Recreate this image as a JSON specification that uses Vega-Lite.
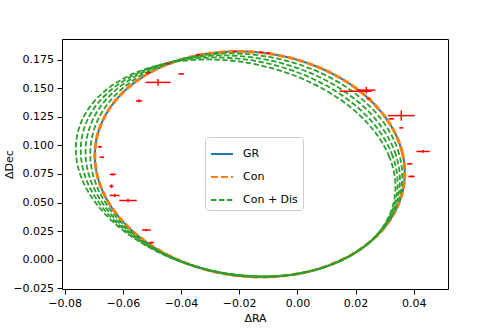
{
  "$schema": "https://vega.github.io/schema/vega-lite/v6.json",
  "width": 386,
  "height": 250,
  "autosize": "none",
  "padding": {"left": 62, "top": 39, "right": 50, "bottom": 43},
  "background": "white",
  "config": {
    "font": "DejaVu Sans",
    "view": {"stroke": "black", "strokeWidth": 1},
    "axis": {"domain": false, "grid": false, "tickColor": "black", "tickSize": 5, "tickWidth": 1, "labelColor": "black", "labelFontSize": 11, "labelFont": "DejaVu Sans", "titleFont": "DejaVu Sans", "titleFontSize": 11, "titleFontWeight": "normal", "titleColor": "black", "labelFlush": false, "labelOverlap": false, "labelBound": false},
    "axisX": {"labelPadding": 3, "titlePadding": 4},
    "axisY": {"labelPadding": 3.5, "titleX": -50, "titleBaseline": "alphabetic"}
  },
  "datasets": {
    "orb": [
      {"s":"GR","k":0,"i":0,"ra":0.03690,"dec":0.07593},{"s":"GR","k":0,"i":1,"ra":0.03609,"dec":0.09315},{"s":"GR","k":0,"i":2,"ra":0.03369,"dec":0.11007},{"s":"GR","k":0,"i":3,"ra":0.02977,"dec":0.12618},{"s":"GR","k":0,"i":4,"ra":0.02444,"dec":0.14100},{"s":"GR","k":0,"i":5,"ra":0.01788,"dec":0.15407},{"s":"GR","k":0,"i":6,"ra":0.01028,"dec":0.16501},{"s":"GR","k":0,"i":7,"ra":0.00186,"dec":0.17346},{"s":"GR","k":0,"i":8,"ra":-0.00710,"dec":0.17920},{"s":"GR","k":0,"i":9,"ra":-0.01635,"dec":0.18201},{"s":"GR","k":0,"i":10,"ra":-0.02560,"dec":0.18184},{"s":"GR","k":0,"i":11,"ra":-0.03456,"dec":0.17868},{"s":"GR","k":0,"i":12,"ra":-0.04298,"dec":0.17263},{"s":"GR","k":0,"i":13,"ra":-0.05058,"dec":0.16387},{"s":"GR","k":0,"i":14,"ra":-0.05714,"dec":0.15268},{"s":"GR","k":0,"i":15,"ra":-0.06247,"dec":0.13938},{"s":"GR","k":0,"i":16,"ra":-0.06639,"dec":0.12439},{"s":"GR","k":0,"i":17,"ra":-0.06879,"dec":0.10815},{"s":"GR","k":0,"i":18,"ra":-0.06960,"dec":0.09117},{"s":"GR","k":0,"i":19,"ra":-0.06879,"dec":0.07395},{"s":"GR","k":0,"i":20,"ra":-0.06639,"dec":0.05703},{"s":"GR","k":0,"i":21,"ra":-0.06247,"dec":0.04092},{"s":"GR","k":0,"i":22,"ra":-0.05714,"dec":0.02610},{"s":"GR","k":0,"i":23,"ra":-0.05058,"dec":0.01303},{"s":"GR","k":0,"i":24,"ra":-0.04298,"dec":0.00209},{"s":"GR","k":0,"i":25,"ra":-0.03456,"dec":-0.00636},{"s":"GR","k":0,"i":26,"ra":-0.02560,"dec":-0.01210},{"s":"GR","k":0,"i":27,"ra":-0.01635,"dec":-0.01491},{"s":"GR","k":0,"i":28,"ra":-0.00710,"dec":-0.01474},{"s":"GR","k":0,"i":29,"ra":0.00186,"dec":-0.01158},{"s":"GR","k":0,"i":30,"ra":0.01028,"dec":-0.00553},{"s":"GR","k":0,"i":31,"ra":0.01788,"dec":0.00323},{"s":"GR","k":0,"i":32,"ra":0.02444,"dec":0.01442},{"s":"GR","k":0,"i":33,"ra":0.02977,"dec":0.02772},{"s":"GR","k":0,"i":34,"ra":0.03369,"dec":0.04271},{"s":"GR","k":0,"i":35,"ra":0.03609,"dec":0.05895},
      {"s":"Con","k":0,"i":0,"ra":0.03690,"dec":0.07593},{"s":"Con","k":0,"i":1,"ra":0.03609,"dec":0.09315},{"s":"Con","k":0,"i":2,"ra":0.03369,"dec":0.11007},{"s":"Con","k":0,"i":3,"ra":0.02977,"dec":0.12618},{"s":"Con","k":0,"i":4,"ra":0.02444,"dec":0.14100},{"s":"Con","k":0,"i":5,"ra":0.01788,"dec":0.15407},{"s":"Con","k":0,"i":6,"ra":0.01028,"dec":0.16501},{"s":"Con","k":0,"i":7,"ra":0.00186,"dec":0.17346},{"s":"Con","k":0,"i":8,"ra":-0.00710,"dec":0.17920},{"s":"Con","k":0,"i":9,"ra":-0.01635,"dec":0.18201},{"s":"Con","k":0,"i":10,"ra":-0.02560,"dec":0.18184},{"s":"Con","k":0,"i":11,"ra":-0.03456,"dec":0.17868},{"s":"Con","k":0,"i":12,"ra":-0.04298,"dec":0.17263},{"s":"Con","k":0,"i":13,"ra":-0.05058,"dec":0.16387},{"s":"Con","k":0,"i":14,"ra":-0.05714,"dec":0.15268},{"s":"Con","k":0,"i":15,"ra":-0.06247,"dec":0.13938},{"s":"Con","k":0,"i":16,"ra":-0.06639,"dec":0.12439},{"s":"Con","k":0,"i":17,"ra":-0.06879,"dec":0.10815},{"s":"Con","k":0,"i":18,"ra":-0.06960,"dec":0.09117},{"s":"Con","k":0,"i":19,"ra":-0.06879,"dec":0.07395},{"s":"Con","k":0,"i":20,"ra":-0.06639,"dec":0.05703},{"s":"Con","k":0,"i":21,"ra":-0.06247,"dec":0.04092},{"s":"Con","k":0,"i":22,"ra":-0.05714,"dec":0.02610},{"s":"Con","k":0,"i":23,"ra":-0.05058,"dec":0.01303},{"s":"Con","k":0,"i":24,"ra":-0.04298,"dec":0.00209},{"s":"Con","k":0,"i":25,"ra":-0.03456,"dec":-0.00636},{"s":"Con","k":0,"i":26,"ra":-0.02560,"dec":-0.01210},{"s":"Con","k":0,"i":27,"ra":-0.01635,"dec":-0.01491},{"s":"Con","k":0,"i":28,"ra":-0.00710,"dec":-0.01474},{"s":"Con","k":0,"i":29,"ra":0.00186,"dec":-0.01158},{"s":"Con","k":0,"i":30,"ra":0.01028,"dec":-0.00553},{"s":"Con","k":0,"i":31,"ra":0.01788,"dec":0.00323},{"s":"Con","k":0,"i":32,"ra":0.02444,"dec":0.01442},{"s":"Con","k":0,"i":33,"ra":0.02977,"dec":0.02772},{"s":"Con","k":0,"i":34,"ra":0.03369,"dec":0.04271},{"s":"Con","k":0,"i":35,"ra":0.03609,"dec":0.05895},
      {"s":"Con + Dis","k":1,"i":0,"ra":0.03603,"dec":0.07520},{"s":"Con + Dis","k":1,"i":1,"ra":0.03498,"dec":0.09225},{"s":"Con + Dis","k":1,"i":2,"ra":0.03234,"dec":0.10901},{"s":"Con + Dis","k":1,"i":3,"ra":0.02818,"dec":0.12496},{"s":"Con + Dis","k":1,"i":4,"ra":0.02263,"dec":0.13964},{"s":"Con + Dis","k":1,"i":5,"ra":0.01586,"dec":0.15259},{"s":"Con + Dis","k":1,"i":6,"ra":0.00807,"dec":0.16342},{"s":"Con + Dis","k":1,"i":7,"ra":-0.00050,"dec":0.17179},{"s":"Con + Dis","k":1,"i":8,"ra":-0.00959,"dec":0.17747},{"s":"Con + Dis","k":1,"i":9,"ra":-0.01892,"dec":0.18026},{"s":"Con + Dis","k":1,"i":10,"ra":-0.02821,"dec":0.18009},{"s":"Con + Dis","k":1,"i":11,"ra":-0.03717,"dec":0.17696},{"s":"Con + Dis","k":1,"i":12,"ra":-0.04554,"dec":0.17097},{"s":"Con + Dis","k":1,"i":13,"ra":-0.05306,"dec":0.16229},{"s":"Con + Dis","k":1,"i":14,"ra":-0.05949,"dec":0.15121},{"s":"Con + Dis","k":1,"i":15,"ra":-0.06467,"dec":0.13804},{"s":"Con + Dis","k":1,"i":16,"ra":-0.06840,"dec":0.12319},{"s":"Con + Dis","k":1,"i":17,"ra":-0.07059,"dec":0.10711},{"s":"Con + Dis","k":1,"i":18,"ra":-0.07117,"dec":0.09029},{"s":"Con + Dis","k":1,"i":19,"ra":-0.07012,"dec":0.07324},{"s":"Con + Dis","k":1,"i":20,"ra":-0.06748,"dec":0.05648},{"s":"Con + Dis","k":1,"i":21,"ra":-0.06332,"dec":0.04053},{"s":"Con + Dis","k":1,"i":22,"ra":-0.05776,"dec":0.02585},{"s":"Con + Dis","k":1,"i":23,"ra":-0.05099,"dec":0.01290},{"s":"Con + Dis","k":1,"i":24,"ra":-0.04321,"dec":0.00207},{"s":"Con + Dis","k":1,"i":25,"ra":-0.03463,"dec":-0.00630},{"s":"Con + Dis","k":1,"i":26,"ra":-0.02555,"dec":-0.01198},{"s":"Con + Dis","k":1,"i":27,"ra":-0.01622,"dec":-0.01477},{"s":"Con + Dis","k":1,"i":28,"ra":-0.00693,"dec":-0.01460},{"s":"Con + Dis","k":1,"i":29,"ra":0.00203,"dec":-0.01147},{"s":"Con + Dis","k":1,"i":30,"ra":0.01040,"dec":-0.00548},{"s":"Con + Dis","k":1,"i":31,"ra":0.01792,"dec":0.00320},{"s":"Con + Dis","k":1,"i":32,"ra":0.02436,"dec":0.01428},{"s":"Con + Dis","k":1,"i":33,"ra":0.02953,"dec":0.02745},{"s":"Con + Dis","k":1,"i":34,"ra":0.03326,"dec":0.04230},{"s":"Con + Dis","k":1,"i":35,"ra":0.03545,"dec":0.05838},
      {"s":"Con + Dis","k":2,"i":0,"ra":0.03517,"dec":0.07447},{"s":"Con + Dis","k":2,"i":1,"ra":0.03388,"dec":0.09135},{"s":"Con + Dis","k":2,"i":2,"ra":0.03099,"dec":0.10795},{"s":"Con + Dis","k":2,"i":3,"ra":0.02659,"dec":0.12375},{"s":"Con + Dis","k":2,"i":4,"ra":0.02081,"dec":0.13828},{"s":"Con + Dis","k":2,"i":5,"ra":0.01383,"dec":0.15110},{"s":"Con + Dis","k":2,"i":6,"ra":0.00586,"dec":0.16183},{"s":"Con + Dis","k":2,"i":7,"ra":-0.00287,"dec":0.17012},{"s":"Con + Dis","k":2,"i":8,"ra":-0.01207,"dec":0.17575},{"s":"Con + Dis","k":2,"i":9,"ra":-0.02148,"dec":0.17850},{"s":"Con + Dis","k":2,"i":10,"ra":-0.03081,"dec":0.17833},{"s":"Con + Dis","k":2,"i":11,"ra":-0.03977,"dec":0.17524},{"s":"Con + Dis","k":2,"i":12,"ra":-0.04810,"dec":0.16930},{"s":"Con + Dis","k":2,"i":13,"ra":-0.05553,"dec":0.16071},{"s":"Con + Dis","k":2,"i":14,"ra":-0.06185,"dec":0.14974},{"s":"Con + Dis","k":2,"i":15,"ra":-0.06686,"dec":0.13669},{"s":"Con + Dis","k":2,"i":16,"ra":-0.07041,"dec":0.12199},{"s":"Con + Dis","k":2,"i":17,"ra":-0.07239,"dec":0.10606},{"s":"Con + Dis","k":2,"i":18,"ra":-0.07274,"dec":0.08941},{"s":"Con + Dis","k":2,"i":19,"ra":-0.07145,"dec":0.07252},{"s":"Con + Dis","k":2,"i":20,"ra":-0.06857,"dec":0.05593},{"s":"Con + Dis","k":2,"i":21,"ra":-0.06417,"dec":0.04013},{"s":"Con + Dis","k":2,"i":22,"ra":-0.05839,"dec":0.02560},{"s":"Con + Dis","k":2,"i":23,"ra":-0.05141,"dec":0.01278},{"s":"Con + Dis","k":2,"i":24,"ra":-0.04344,"dec":0.00205},{"s":"Con + Dis","k":2,"i":25,"ra":-0.03471,"dec":-0.00624},{"s":"Con + Dis","k":2,"i":26,"ra":-0.02551,"dec":-0.01187},{"s":"Con + Dis","k":2,"i":27,"ra":-0.01609,"dec":-0.01462},{"s":"Con + Dis","k":2,"i":28,"ra":-0.00676,"dec":-0.01446},{"s":"Con + Dis","k":2,"i":29,"ra":0.00219,"dec":-0.01136},{"s":"Con + Dis","k":2,"i":30,"ra":0.01053,"dec":-0.00542},{"s":"Con + Dis","k":2,"i":31,"ra":0.01796,"dec":0.00317},{"s":"Con + Dis","k":2,"i":32,"ra":0.02427,"dec":0.01414},{"s":"Con + Dis","k":2,"i":33,"ra":0.02929,"dec":0.02719},{"s":"Con + Dis","k":2,"i":34,"ra":0.03283,"dec":0.04189},{"s":"Con + Dis","k":2,"i":35,"ra":0.03481,"dec":0.05781},
      {"s":"Con + Dis","k":3,"i":0,"ra":0.03430,"dec":0.07373},{"s":"Con + Dis","k":3,"i":1,"ra":0.03277,"dec":0.09046},{"s":"Con + Dis","k":3,"i":2,"ra":0.02964,"dec":0.10689},{"s":"Con + Dis","k":3,"i":3,"ra":0.02501,"dec":0.12253},{"s":"Con + Dis","k":3,"i":4,"ra":0.01900,"dec":0.13692},{"s":"Con + Dis","k":3,"i":5,"ra":0.01181,"dec":0.14962},{"s":"Con + Dis","k":3,"i":6,"ra":0.00365,"dec":0.16024},{"s":"Con + Dis","k":3,"i":7,"ra":-0.00523,"dec":0.16844},{"s":"Con + Dis","k":3,"i":8,"ra":-0.01456,"dec":0.17402},{"s":"Con + Dis","k":3,"i":9,"ra":-0.02405,"dec":0.17675},{"s":"Con + Dis","k":3,"i":10,"ra":-0.03342,"dec":0.17658},{"s":"Con + Dis","k":3,"i":11,"ra":-0.04238,"dec":0.17351},{"s":"Con + Dis","k":3,"i":12,"ra":-0.05066,"dec":0.16764},{"s":"Con + Dis","k":3,"i":13,"ra":-0.05801,"dec":0.15913},{"s":"Con + Dis","k":3,"i":14,"ra":-0.06420,"dec":0.14826},{"s":"Con + Dis","k":3,"i":15,"ra":-0.06906,"dec":0.13535},{"s":"Con + Dis","k":3,"i":16,"ra":-0.07242,"dec":0.12079},{"s":"Con + Dis","k":3,"i":17,"ra":-0.07419,"dec":0.10502},{"s":"Con + Dis","k":3,"i":18,"ra":-0.07431,"dec":0.08853},{"s":"Con + Dis","k":3,"i":19,"ra":-0.07279,"dec":0.07181},{"s":"Con + Dis","k":3,"i":20,"ra":-0.06966,"dec":0.05538},{"s":"Con + Dis","k":3,"i":21,"ra":-0.06502,"dec":0.03974},{"s":"Con + Dis","k":3,"i":22,"ra":-0.05901,"dec":0.02534},{"s":"Con + Dis","k":3,"i":23,"ra":-0.05182,"dec":0.01265},{"s":"Con + Dis","k":3,"i":24,"ra":-0.04367,"dec":0.00203},{"s":"Con + Dis","k":3,"i":25,"ra":-0.03478,"dec":-0.00618},{"s":"Con + Dis","k":3,"i":26,"ra":-0.02546,"dec":-0.01175},{"s":"Con + Dis","k":3,"i":27,"ra":-0.01597,"dec":-0.01448},{"s":"Con + Dis","k":3,"i":28,"ra":-0.00659,"dec":-0.01431},{"s":"Con + Dis","k":3,"i":29,"ra":0.00236,"dec":-0.01124},{"s":"Con + Dis","k":3,"i":30,"ra":0.01065,"dec":-0.00537},{"s":"Con + Dis","k":3,"i":31,"ra":0.01800,"dec":0.00314},{"s":"Con + Dis","k":3,"i":32,"ra":0.02419,"dec":0.01400},{"s":"Con + Dis","k":3,"i":33,"ra":0.02905,"dec":0.02692},{"s":"Con + Dis","k":3,"i":34,"ra":0.03241,"dec":0.04147},{"s":"Con + Dis","k":3,"i":35,"ra":0.03417,"dec":0.05725},
      {"s":"Con + Dis","k":4,"i":0,"ra":0.03343,"dec":0.07300},{"s":"Con + Dis","k":4,"i":1,"ra":0.03166,"dec":0.08956},{"s":"Con + Dis","k":4,"i":2,"ra":0.02829,"dec":0.10583},{"s":"Con + Dis","k":4,"i":3,"ra":0.02342,"dec":0.12132},{"s":"Con + Dis","k":4,"i":4,"ra":0.01718,"dec":0.13556},{"s":"Con + Dis","k":4,"i":5,"ra":0.00978,"dec":0.14813},{"s":"Con + Dis","k":4,"i":6,"ra":0.00144,"dec":0.15865},{"s":"Con + Dis","k":4,"i":7,"ra":-0.00760,"dec":0.16677},{"s":"Con + Dis","k":4,"i":8,"ra":-0.01704,"dec":0.17229},{"s":"Con + Dis","k":4,"i":9,"ra":-0.02661,"dec":0.17499},{"s":"Con + Dis","k":4,"i":10,"ra":-0.03603,"dec":0.17483},{"s":"Con + Dis","k":4,"i":11,"ra":-0.04498,"dec":0.17179},{"s":"Con + Dis","k":4,"i":12,"ra":-0.05322,"dec":0.16597},{"s":"Con + Dis","k":4,"i":13,"ra":-0.06049,"dec":0.15755},{"s":"Con + Dis","k":4,"i":14,"ra":-0.06656,"dec":0.14679},{"s":"Con + Dis","k":4,"i":15,"ra":-0.07126,"dec":0.13400},{"s":"Con + Dis","k":4,"i":16,"ra":-0.07443,"dec":0.11959},{"s":"Con + Dis","k":4,"i":17,"ra":-0.07599,"dec":0.10398},{"s":"Con + Dis","k":4,"i":18,"ra":-0.07588,"dec":0.08765},{"s":"Con + Dis","k":4,"i":19,"ra":-0.07412,"dec":0.07110},{"s":"Con + Dis","k":4,"i":20,"ra":-0.07075,"dec":0.05483},{"s":"Con + Dis","k":4,"i":21,"ra":-0.06587,"dec":0.03934},{"s":"Con + Dis","k":4,"i":22,"ra":-0.05963,"dec":0.02509},{"s":"Con + Dis","k":4,"i":23,"ra":-0.05224,"dec":0.01253},{"s":"Con + Dis","k":4,"i":24,"ra":-0.04390,"dec":0.00201},{"s":"Con + Dis","k":4,"i":25,"ra":-0.03486,"dec":-0.00612},{"s":"Con + Dis","k":4,"i":26,"ra":-0.02541,"dec":-0.01163},{"s":"Con + Dis","k":4,"i":27,"ra":-0.01584,"dec":-0.01433},{"s":"Con + Dis","k":4,"i":28,"ra":-0.00642,"dec":-0.01417},{"s":"Con + Dis","k":4,"i":29,"ra":0.00253,"dec":-0.01113},{"s":"Con + Dis","k":4,"i":30,"ra":0.01078,"dec":-0.00532},{"s":"Con + Dis","k":4,"i":31,"ra":0.01804,"dec":0.00311},{"s":"Con + Dis","k":4,"i":32,"ra":0.02410,"dec":0.01386},{"s":"Con + Dis","k":4,"i":33,"ra":0.02881,"dec":0.02665},{"s":"Con + Dis","k":4,"i":34,"ra":0.03198,"dec":0.04106},{"s":"Con + Dis","k":4,"i":35,"ra":0.03353,"dec":0.05668}
    ],
    "obs": [
      {"ra":-0.0479,"dec":0.1552,"rlo":-0.0522,"rhi":-0.0436,"dlo":0.1523,"dhi":0.1581},
      {"ra":-0.0399,"dec":0.1626,"rlo":-0.0409,"rhi":-0.0389,"dlo":0.1622,"dhi":0.1630},
      {"ra":-0.0544,"dec":0.1390,"rlo":-0.0555,"rhi":-0.0533,"dlo":0.1375,"dhi":0.1405},
      {"ra":-0.0679,"dec":0.0988,"rlo":-0.0686,"rhi":-0.0672,"dlo":0.0979,"dhi":0.0997},
      {"ra":-0.0672,"dec":0.0897,"rlo":-0.0680,"rhi":-0.0664,"dlo":0.0893,"dhi":0.0901},
      {"ra":-0.0634,"dec":0.0746,"rlo":-0.0645,"rhi":-0.0623,"dlo":0.0737,"dhi":0.0755},
      {"ra":-0.0639,"dec":0.0643,"rlo":-0.0646,"rhi":-0.0632,"dlo":0.0628,"dhi":0.0658},
      {"ra":-0.0628,"dec":0.0562,"rlo":-0.0645,"rhi":-0.0611,"dlo":0.0547,"dhi":0.0577},
      {"ra":-0.0582,"dec":0.0518,"rlo":-0.0612,"rhi":-0.0552,"dlo":0.0503,"dhi":0.0533},
      {"ra":-0.0519,"dec":0.0259,"rlo":-0.0534,"rhi":-0.0504,"dlo":0.0249,"dhi":0.0269},
      {"ra":-0.0502,"dec":0.0149,"rlo":-0.0511,"rhi":-0.0493,"dlo":0.0141,"dhi":0.0157},
      {"ra":0.0357,"dec":0.1261,"rlo":0.0311,"rhi":0.0403,"dlo":0.1217,"dhi":0.1305},
      {"ra":0.0323,"dec":0.1233,"rlo":0.0314,"rhi":0.0332,"dlo":0.1229,"dhi":0.1237},
      {"ra":0.0357,"dec":0.1154,"rlo":0.0350,"rhi":0.0364,"dlo":0.1150,"dhi":0.1158},
      {"ra":0.0432,"dec":0.0947,"rlo":0.0409,"rhi":0.0455,"dlo":0.0935,"dhi":0.0959},
      {"ra":0.0386,"dec":0.0839,"rlo":0.0377,"rhi":0.0395,"dlo":0.0835,"dhi":0.0843},
      {"ra":0.0392,"dec":0.0728,"rlo":0.0381,"rhi":0.0403,"dlo":0.0718,"dhi":0.0738},
      {"ra":0.0200,"dec":0.1474,"rlo":0.0145,"rhi":0.0255,"dlo":0.1470,"dhi":0.1478},
      {"ra":0.0237,"dec":0.1484,"rlo":0.0206,"rhi":0.0268,"dlo":0.1455,"dhi":0.1513},
      {"ra":0.0245,"dec":0.1410,"rlo":0.0238,"rhi":0.0252,"dlo":0.1406,"dhi":0.1414},
      {"ra":-0.0513,"dec":0.1635,"rlo":-0.0520,"rhi":-0.0506,"dlo":0.1631,"dhi":0.1639},
      {"ra":-0.0445,"dec":0.1716,"rlo":-0.0452,"rhi":-0.0438,"dlo":0.1712,"dhi":0.1720},
      {"ra":-0.0342,"dec":0.1795,"rlo":-0.0349,"rhi":-0.0335,"dlo":0.1791,"dhi":0.1799},
      {"ra":-0.0215,"dec":0.1823,"rlo":-0.0222,"rhi":-0.0208,"dlo":0.1819,"dhi":0.1827},
      {"ra":-0.0124,"dec":0.1815,"rlo":-0.0131,"rhi":-0.0117,"dlo":0.1811,"dhi":0.1819},
      {"ra":-0.0101,"dec":0.1809,"rlo":-0.0108,"rhi":-0.0094,"dlo":0.1805,"dhi":0.1813}
    ]
  },
  "layer": [
    {
      "data": {"name": "orb"},
      "transform": [{"filter": "datum.s === 'GR'"}],
      "mark": {"type": "line", "interpolate": "cardinal-closed", "strokeWidth": 2},
      "encoding": {
        "x": {"field": "ra", "type": "quantitative", "title": "ΔRA", "scale": {"domain": [-0.08089, 0.05175], "nice": false, "zero": false}, "axis": {"values": [-0.08, -0.06, -0.04, -0.02, 0, 0.02, 0.04], "format": ".2f", "labelOverlap": false}},
        "y": {"field": "dec", "type": "quantitative", "title": "ΔDec", "scale": {"domain": [-0.0257, 0.19318], "nice": false, "zero": false}, "axis": {"values": [-0.025, 0, 0.025, 0.05, 0.075, 0.1, 0.125, 0.15, 0.175], "format": ".3f", "labelOverlap": false, "tickCount": 9}},
        "order": {"field": "i", "type": "quantitative"},
        "detail": {"field": "k", "type": "nominal"},
        "color": {"field": "s", "type": "nominal", "scale": {"domain": ["GR", "Con", "Con + Dis"], "range": ["#1f77b4", "#ff7f0e", "#2ca02c"]}, "legend": {"title": null, "orient": "none", "legendX": 143, "legendY": 98, "symbolType": "stroke", "symbolSize": 484, "symbolStrokeWidth": 1.8, "labelFontSize": 11, "labelFont": "DejaVu Sans", "labelColor": "black", "labelOffset": 9, "rowPadding": 6, "padding": 5, "fillColor": "rgba(255,255,255,0.8)", "strokeColor": "#cccccc", "cornerRadius": 3}},
        "strokeDash": {"field": "s", "type": "nominal", "scale": {"domain": ["GR", "Con", "Con + Dis"], "range": [[1, 0], [7, 3], [5.5, 2.4]]}, "legend": {"title": null, "orient": "none", "legendX": 143, "legendY": 98, "symbolType": "stroke", "symbolSize": 484, "symbolStrokeWidth": 1.8, "labelFontSize": 11, "labelFont": "DejaVu Sans", "labelColor": "black", "labelOffset": 9, "rowPadding": 6, "padding": 5, "fillColor": "rgba(255,255,255,0.8)", "strokeColor": "#cccccc", "cornerRadius": 3}}
      }
    },
    {
      "data": {"name": "orb"},
      "transform": [{"filter": "datum.s === 'Con'"}],
      "mark": {"type": "line", "interpolate": "cardinal-closed", "strokeWidth": 3},
      "encoding": {
        "x": {"field": "ra", "type": "quantitative", "title": "ΔRA"},
        "y": {"field": "dec", "type": "quantitative", "title": "ΔDec"},
        "order": {"field": "i", "type": "quantitative"},
        "detail": {"field": "k", "type": "nominal"},
        "color": {"field": "s", "type": "nominal"},
        "strokeDash": {"field": "s", "type": "nominal"}
      }
    },
    {
      "data": {"name": "orb"},
      "transform": [{"filter": "datum.s === 'Con + Dis'"}],
      "mark": {"type": "line", "interpolate": "cardinal-closed", "strokeWidth": 1.8},
      "encoding": {
        "x": {"field": "ra", "type": "quantitative", "title": "ΔRA"},
        "y": {"field": "dec", "type": "quantitative", "title": "ΔDec"},
        "order": {"field": "i", "type": "quantitative"},
        "detail": {"field": "k", "type": "nominal"},
        "color": {"field": "s", "type": "nominal"},
        "strokeDash": {"field": "s", "type": "nominal"}
      }
    },
    {
      "data": {"name": "obs"},
      "mark": {"type": "rule", "color": "#ff0000", "strokeWidth": 1.5},
      "encoding": {
        "x": {"field": "rlo", "type": "quantitative", "title": "ΔRA"},
        "x2": {"field": "rhi"},
        "y": {"field": "dec", "type": "quantitative", "title": "ΔDec"}
      }
    },
    {
      "data": {"name": "obs"},
      "mark": {"type": "rule", "color": "#ff0000", "strokeWidth": 1.5},
      "encoding": {
        "x": {"field": "ra", "type": "quantitative", "title": "ΔRA"},
        "y": {"field": "dlo", "type": "quantitative", "title": "ΔDec"},
        "y2": {"field": "dhi"}
      }
    }
  ]
}
